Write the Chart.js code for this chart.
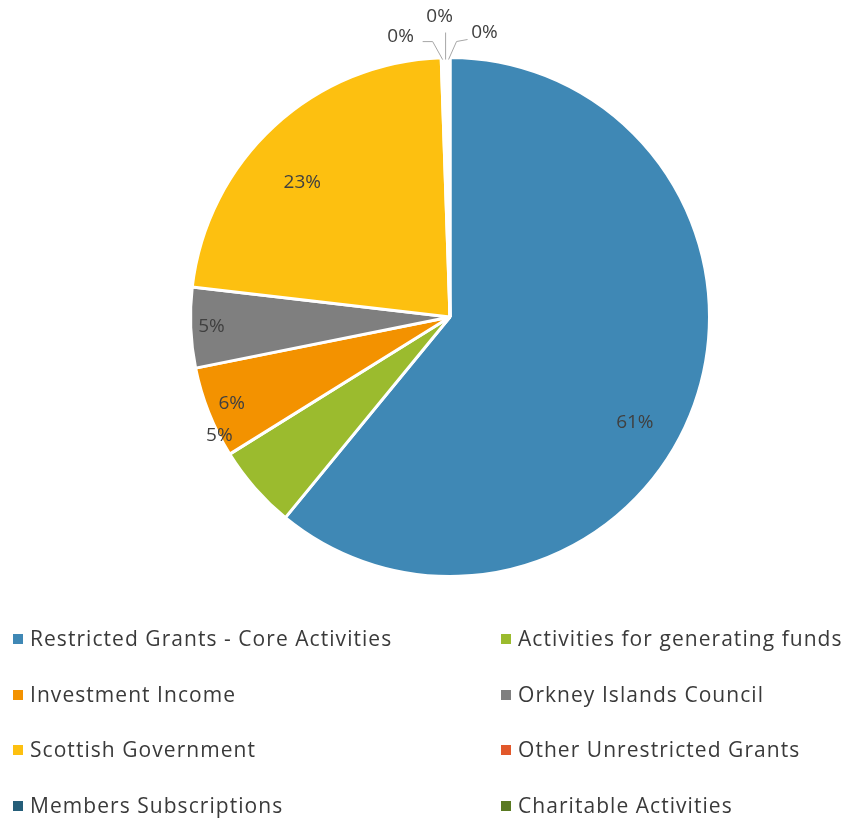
<!DOCTYPE html>
<html>
<head>
<meta charset="utf-8">
<script src="https://cdn.jsdelivr.net/npm/chart.js@4.4.1/dist/chart.umd.min.js"></script>
<style>
  body { margin: 0; background: #fff; }
  #wrap { position: relative; width: 847px; height: 820px; }
  #legend { position: absolute; left: 0; top: 0; width: 847px; height: 820px; pointer-events: none; }
  .item { position: absolute; font-family: "Open Sans", sans-serif; font-size: 21px; letter-spacing: 1.05px; color: #3a3a3a; white-space: nowrap; line-height: 24px; }
  .box { position: absolute; width: 10px; height: 10px; top: 8px; }
</style>
</head>
<body>
<div id="wrap">
  <canvas id="pie" width="847" height="820"></canvas>
  <div id="legend"></div>
</div>
<script>
// income breakdown, percent of total
const categories = [
    "Restricted Grants - Core Activities",
    "Activities for generating funds",
    "Investment Income",
    "Orkney Islands Council",
    "Scottish Government",
    "Other Unrestricted Grants",
    "Members Subscriptions",
    "Charitable Activities",
];
const values = [60.9, 5.2, 5.7, 5.0, 22.6, 0.18, 0.18, 0.18];
const colors = ["#3f88b5", "#9bbb2e", "#f39200", "#7f7f7f", "#fdc010", "#e2582b", "#255e79", "#5a7a22"];

// where each % label sits: r = fraction of radius, turn = degrees off the slice middle
// small slices get a leader line instead (offsets from the slice edge)
const labelPlace = [
    { r: 0.82, turn: 10 },
    { r: 1.0, turn: 14 },
    { r: 0.905, turn: 0 },
    { r: 0.92, turn: 0 },
    { r: 0.77, turn: -5 },
    { leader: [[0, 2], [-10, -16], [-20, -16]], text: [-42, -21] },
    { leader: [[0, 2], [0, -25]], text: [-6, -41] },
    { leader: [[0, 2], [8, -16], [19, -18]], text: [36, -25] },
];

const pctLabels = {
    id: "pctLabels",
    afterDatasetsDraw(chart) {
        const ctx = chart.ctx;
        const meta = chart.getDatasetMeta(0);
        const total = values.reduce((a, b) => a + b, 0);
        ctx.save();
        ctx.font = "19px 'Open Sans'";
        ctx.fillStyle = "#404040";
        ctx.textAlign = "center";
        ctx.textBaseline = "middle";
        meta.data.forEach((arc, i) => {
            const p = labelPlace[i];
            const txt = Math.round((values[i] / total) * 100) + "%";
            const mid = (arc.startAngle + arc.endAngle) / 2 + ((p.turn || 0) * Math.PI) / 180;
            if (p.leader) {
                const ax = arc.x + Math.cos(mid) * arc.outerRadius;
                const ay = arc.y + Math.sin(mid) * arc.outerRadius;
                ctx.strokeStyle = "#a6a6a6";
                ctx.lineWidth = 1;
                ctx.beginPath();
                p.leader.forEach((pt, k) => {
                    if (k == 0) ctx.moveTo(ax + pt[0], ay + pt[1]);
                    else ctx.lineTo(ax + pt[0], ay + pt[1]);
                });
                ctx.stroke();
                ctx.fillText(txt, ax + p.text[0], ay + p.text[1]);
            } else {
                const rr = arc.outerRadius * p.r;
                ctx.fillText(txt, arc.x + Math.cos(mid) * rr, arc.y + Math.sin(mid) * rr);
            }
        });
        ctx.restore();
    },
};

var ctx = document.getElementById("pie").getContext("2d");
new Chart(ctx, {
    type: "pie",
    data: {
        labels: categories,
        datasets: [
            {
                data: values,
                backgroundColor: colors,
                borderColor: "#ffffff",
                borderWidth: 3,
            },
        ],
    },
    options: {
        responsive: false,
        animation: false,
        layout: { padding: { left: 188, top: 56, right: 135, bottom: 242 } },
        plugins: {
            legend: { display: false },
            tooltip: { enabled: false },
        },
    },
    plugins: [pctLabels],
});

// two-column legend below the pie, filled row by row
var legend = document.getElementById("legend");
categories.forEach((name, i) => {
    const col = i % 2;
    const row = Math.floor(i / 2);
    const el = document.createElement("div");
    el.className = "item";
    el.style.left = (col ? 518 : 30) + "px";
    el.style.top = 626 + row * 55.5 + "px";
    const box = document.createElement("span");
    box.className = "box";
    box.style.background = colors[i];
    box.style.left = "-17px";
    el.appendChild(box);
    el.appendChild(document.createTextNode(name));
    legend.appendChild(el);
});
</script>
</body>
</html>
